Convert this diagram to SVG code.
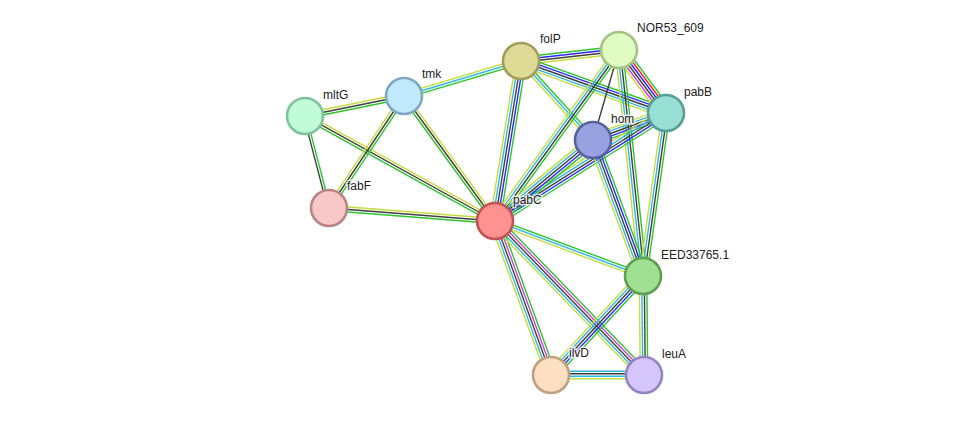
<svg xmlns="http://www.w3.org/2000/svg" width="975" height="421" viewBox="0 0 975 421">
<style>
line{stroke-width:1.4;fill:none}
.g{stroke:#2ec52e}.r{stroke:#ff2020}.b{stroke:#2a2aff}.k{stroke:#404040}.m{stroke:#d040d0}.c{stroke:#30b8e0}.y{stroke:#c6dc3c}
circle{stroke-width:2.6}
text{font-family:"Liberation Sans",Arial,sans-serif;font-size:12px;fill:#222;stroke:#fff;stroke-width:3px;stroke-opacity:0.8;paint-order:stroke;stroke-linejoin:round}
</style>
<rect width="975" height="421" fill="#fff"/>
<g id="connectors">
<g transform="translate(521,61) rotate(-6.40)"><line class="g" x2="98.6" y1="-3.75" y2="-3.75"/><line class="b" x2="98.6" y1="-1.25" y2="-1.25"/><line class="k" x2="98.6" y1="1.25" y2="1.25"/><line class="y" x2="98.6" y1="3.75" y2="3.75"/></g>
<g transform="translate(521,61) rotate(19.73)"><line class="g" x2="154" y1="-5" y2="-5"/><line class="b" x2="154" y1="-2.5" y2="-2.5"/><line class="k" x2="154" y1="0" y2="0"/><line class="c" x2="154" y1="2.5" y2="2.5"/><line class="y" x2="154" y1="5" y2="5"/></g>
<g transform="translate(521,61) rotate(47.66)"><line class="g" x2="106.9" y1="-2.5" y2="-2.5"/><line class="c" x2="106.9" y1="0" y2="0"/><line class="y" x2="106.9" y1="2.5" y2="2.5"/></g>
<g transform="translate(521,61) rotate(99.23)"><line class="g" x2="162.1" y1="-5" y2="-5"/><line class="b" x2="162.1" y1="-2.5" y2="-2.5"/><line class="k" x2="162.1" y1="0" y2="0"/><line class="c" x2="162.1" y1="2.5" y2="2.5"/><line class="y" x2="162.1" y1="5" y2="5"/></g>
<g transform="translate(521,61) rotate(163.35)"><line class="g" x2="122.1" y1="-2.5" y2="-2.5"/><line class="c" x2="122.1" y1="0" y2="0"/><line class="y" x2="122.1" y1="2.5" y2="2.5"/></g>
<g transform="translate(619,50) rotate(53.27)"><line class="g" x2="78.6" y1="-6.25" y2="-6.25"/><line class="r" x2="78.6" y1="-3.75" y2="-3.75"/><line class="b" x2="78.6" y1="-1.25" y2="-1.25"/><line class="k" x2="78.6" y1="1.25" y2="1.25"/><line class="m" x2="78.6" y1="3.75" y2="3.75"/><line class="y" x2="78.6" y1="6.25" y2="6.25"/></g>
<g transform="translate(619,50) rotate(106.11)"><line class="k" x2="93.7" y1="0" y2="0"/></g>
<g transform="translate(619,50) rotate(125.95)"><line class="g" x2="211.2" y1="-3.75" y2="-3.75"/><line class="k" x2="211.2" y1="-1.25" y2="-1.25"/><line class="c" x2="211.2" y1="1.25" y2="1.25"/><line class="y" x2="211.2" y1="3.75" y2="3.75"/></g>
<g transform="translate(619,50) rotate(83.94)"><line class="g" x2="227.3" y1="-3.75" y2="-3.75"/><line class="k" x2="227.3" y1="-1.25" y2="-1.25"/><line class="c" x2="227.3" y1="1.25" y2="1.25"/><line class="y" x2="227.3" y1="3.75" y2="3.75"/></g>
<g transform="translate(666,113) rotate(159.70)"><line class="g" x2="77.8" y1="-5" y2="-5"/><line class="b" x2="77.8" y1="-2.5" y2="-2.5"/><line class="k" x2="77.8" y1="0" y2="0"/><line class="c" x2="77.8" y1="2.5" y2="2.5"/><line class="y" x2="77.8" y1="5" y2="5"/></g>
<g transform="translate(666,113) rotate(147.72)"><line class="g" x2="202.3" y1="-5" y2="-5"/><line class="b" x2="202.3" y1="-2.5" y2="-2.5"/><line class="k" x2="202.3" y1="0" y2="0"/><line class="c" x2="202.3" y1="2.5" y2="2.5"/><line class="y" x2="202.3" y1="5" y2="5"/></g>
<g transform="translate(666,113) rotate(98.03)"><line class="g" x2="164.6" y1="-3.75" y2="-3.75"/><line class="k" x2="164.6" y1="-1.25" y2="-1.25"/><line class="c" x2="164.6" y1="1.25" y2="1.25"/><line class="y" x2="164.6" y1="3.75" y2="3.75"/></g>
<g transform="translate(593,140) rotate(140.42)"><line class="g" x2="127.1" y1="-5" y2="-5"/><line class="b" x2="127.1" y1="-2.5" y2="-2.5"/><line class="k" x2="127.1" y1="0" y2="0"/><line class="c" x2="127.1" y1="2.5" y2="2.5"/><line class="y" x2="127.1" y1="5" y2="5"/></g>
<g transform="translate(593,140) rotate(69.81)"><line class="g" x2="144.9" y1="-5" y2="-5"/><line class="b" x2="144.9" y1="-2.5" y2="-2.5"/><line class="k" x2="144.9" y1="0" y2="0"/><line class="c" x2="144.9" y1="2.5" y2="2.5"/><line class="y" x2="144.9" y1="5" y2="5"/></g>
<g transform="translate(495,221) rotate(-126.06)"><line class="g" x2="154.6" y1="-2.5" y2="-2.5"/><line class="k" x2="154.6" y1="0" y2="0"/><line class="y" x2="154.6" y1="2.5" y2="2.5"/></g>
<g transform="translate(495,221) rotate(-151.07)"><line class="g" x2="217.1" y1="-2.5" y2="-2.5"/><line class="k" x2="217.1" y1="0" y2="0"/><line class="y" x2="217.1" y1="2.5" y2="2.5"/></g>
<g transform="translate(495,221) rotate(-175.52)"><line class="g" x2="166.5" y1="-2.5" y2="-2.5"/><line class="k" x2="166.5" y1="0" y2="0"/><line class="y" x2="166.5" y1="2.5" y2="2.5"/></g>
<g transform="translate(495,221) rotate(20.39)"><line class="g" x2="157.9" y1="-2.5" y2="-2.5"/><line class="c" x2="157.9" y1="0" y2="0"/><line class="y" x2="157.9" y1="2.5" y2="2.5"/></g>
<g transform="translate(495,221) rotate(70.02)"><line class="g" x2="163.9" y1="-5" y2="-5"/><line class="m" x2="163.9" y1="-2.5" y2="-2.5"/><line class="k" x2="163.9" y1="0" y2="0"/><line class="c" x2="163.9" y1="2.5" y2="2.5"/><line class="y" x2="163.9" y1="5" y2="5"/></g>
<g transform="translate(495,221) rotate(45.94)"><line class="g" x2="214.3" y1="-5" y2="-5"/><line class="m" x2="214.3" y1="-2.5" y2="-2.5"/><line class="k" x2="214.3" y1="0" y2="0"/><line class="c" x2="214.3" y1="2.5" y2="2.5"/><line class="y" x2="214.3" y1="5" y2="5"/></g>
<g transform="translate(404,96) rotate(168.58)"><line class="g" x2="101" y1="-2.5" y2="-2.5"/><line class="k" x2="101" y1="0" y2="0"/><line class="y" x2="101" y1="2.5" y2="2.5"/></g>
<g transform="translate(404,96) rotate(123.81)"><line class="g" x2="134.8" y1="-2.5" y2="-2.5"/><line class="k" x2="134.8" y1="0" y2="0"/><line class="y" x2="134.8" y1="2.5" y2="2.5"/></g>
<g transform="translate(305,116) rotate(75.38)"><line class="g" x2="95.1" y1="-1.25" y2="-1.25"/><line class="k" x2="95.1" y1="1.25" y2="1.25"/></g>
<g transform="translate(643,276) rotate(132.91)"><line class="g" x2="135.2" y1="-5" y2="-5"/><line class="b" x2="135.2" y1="-2.5" y2="-2.5"/><line class="k" x2="135.2" y1="0" y2="0"/><line class="c" x2="135.2" y1="2.5" y2="2.5"/><line class="y" x2="135.2" y1="5" y2="5"/></g>
<g transform="translate(643,276) rotate(89.42)"><line class="g" x2="99" y1="-3.75" y2="-3.75"/><line class="k" x2="99" y1="-1.25" y2="-1.25"/><line class="c" x2="99" y1="1.25" y2="1.25"/><line class="y" x2="99" y1="3.75" y2="3.75"/></g>
<g transform="translate(551,375)"><line class="c" x2="93" y1="-3.75" y2="-3.75"/><line class="k" x2="93" y1="-1.25" y2="-1.25"/><line class="c" x2="93" y1="1.25" y2="1.25"/><line class="y" x2="93" y1="3.75" y2="3.75"/></g>
</g>
<g id="folP"><circle cx="521" cy="61" r="18" fill="#dfdb97" stroke="#a19d5b"/><text x="540" y="43">folP</text></g>
<g id="NOR53_609"><circle cx="619" cy="50" r="18" fill="#e0fcc2" stroke="#a2c483"/><text x="637" y="32">NOR53_609</text></g>
<g id="pabB"><circle cx="666" cy="113" r="18" fill="#98e0d6" stroke="#579e95"/><text x="684" y="96">pabB</text></g>
<g id="hom"><circle cx="593" cy="140" r="18" fill="#98a2e0" stroke="#58629f"/><text x="611" y="123">hom</text></g>
<g id="tmk"><circle cx="404" cy="96" r="18" fill="#c1e9fc" stroke="#7fa9c2"/><text x="422" y="78">tmk</text></g>
<g id="mltG"><circle cx="305" cy="116" r="18" fill="#c1fcd9" stroke="#80c29a"/><text x="323" y="99">mltG</text></g>
<g id="fabF"><circle cx="329" cy="208" r="18" fill="#f8c7c7" stroke="#b88686"/><text x="347" y="190">fabF</text></g>
<g id="pabC"><circle cx="495" cy="221" r="18" fill="#ff9191" stroke="#c25353"/><text x="513" y="204">pabC</text></g>
<g id="EED33765.1"><circle cx="643" cy="276" r="18" fill="#a0e093" stroke="#609f53"/><text x="661" y="259">EED33765.1</text></g>
<g id="ilvD"><circle cx="551" cy="375" r="18" fill="#fde0c1" stroke="#c0a081"/><text x="569" y="357">ilvD</text></g>
<g id="leuA"><circle cx="644" cy="375" r="18" fill="#d4c5fc" stroke="#9383c4"/><text x="662" y="358">leuA</text></g>
</svg>
